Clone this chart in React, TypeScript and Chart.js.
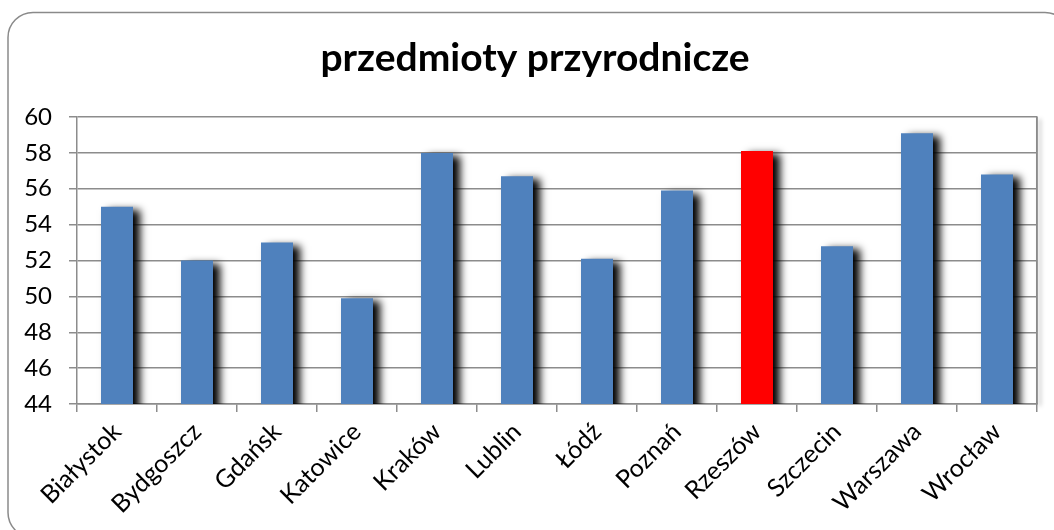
import React, { useEffect, useRef } from "react";
import { Chart, registerables } from "chart.js";

Chart.register(...registerables);

const categories = [
  "Białystok",
  "Bydgoszcz",
  "Gdańsk",
  "Katowice",
  "Kraków",
  "Lublin",
  "Łódź",
  "Poznań",
  "Rzeszów",
  "Szczecin",
  "Warszawa",
  "Wrocław",
];
const values = [55.0, 52.0, 53.0, 49.9, 58.0, 56.7, 52.1, 55.9, 58.1, 52.8, 59.1, 56.8];
const highlighted = "Rzeszów";
const titleText = "przedmioty przyrodnicze";
const yMin = 44;
const yMax = 60;
const yStep = 2;

const BLUE = "#4F81BD";
const RED = "#FF0000";
const GRID = "#8c8c8c";
const FONT = "Lato, 'Open Sans', sans-serif";

const framePlugin = {
  id: "frame",
  beforeDraw(chart: any) {
    const ctx = chart.ctx;
    ctx.save();
    ctx.fillStyle = "#ffffff";
    ctx.fillRect(0, 0, chart.width, chart.height);
    ctx.beginPath();
    ctx.roundRect(8, 12.5, 1062, 525, 25);
    ctx.lineWidth = 1.5;
    ctx.strokeStyle = "#8a8a8a";
    ctx.stroke();
    ctx.restore();
  },
  afterDraw(chart: any) {
    const { ctx, chartArea } = chart;
    ctx.save();
    ctx.shadowColor = "rgba(0,0,0,0.35)";
    ctx.shadowBlur = 4;
    ctx.shadowOffsetX = 3;
    ctx.shadowOffsetY = 2;
    ctx.strokeStyle = GRID;
    ctx.lineWidth = 1.5;
    ctx.beginPath();
    ctx.moveTo(chartArea.right, chartArea.top);
    ctx.lineTo(chartArea.right, chartArea.bottom);
    ctx.stroke();
    ctx.restore();
  },
};

const barShadowPlugin = {
  id: "barShadow",
  beforeDatasetsDraw(chart: any) {
    const ctx = chart.ctx;
    ctx.save();
    ctx.shadowColor = "rgba(0,0,0,1)";
    ctx.shadowBlur = 8;
    ctx.shadowOffsetX = 7;
    ctx.shadowOffsetY = 3;
  },
  afterDatasetsDraw(chart: any) {
    chart.ctx.restore();
  },
};

export default function App() {
  const canvasRef = useRef<HTMLCanvasElement | null>(null);

  useEffect(() => {
    if (!canvasRef.current) return;
    const chart = new Chart(canvasRef.current, {
      type: "bar",
      data: {
        labels: categories,
        datasets: [
          {
            data: values,
            backgroundColor: categories.map((c) => (c === highlighted ? RED : BLUE)),
            borderWidth: 0,
            barPercentage: 0.4,
            categoryPercentage: 1.0,
          },
        ],
      },
      options: {
        animation: false,
        responsive: false,
        maintainAspectRatio: false,
        layout: { padding: { left: 22, right: 6, top: 0, bottom: 0 } },
        plugins: {
          legend: { display: false },
          tooltip: { enabled: false },
          title: {
            display: true,
            text: titleText,
            color: "#000000",
            font: { family: FONT, size: 39, weight: "bold" },
            padding: { top: 35, bottom: 35.2 },
          },
        },
        scales: {
          x: {
            afterFit(scale: any) {
              scale.height = 126;
            },
            grid: {
              display: true,
              drawOnChartArea: false,
              drawTicks: true,
              tickLength: 8,
              offset: true,
              color: GRID,
              lineWidth: 1.5,
            },
            border: { display: true, color: GRID, width: 1.5 },
            ticks: {
              maxRotation: 45,
              minRotation: 45,
              autoSkip: false,
              padding: 5,
              color: "#000000",
              font: { family: FONT, size: 25 },
            },
          },
          y: {
            min: yMin,
            max: yMax,
            afterFit(scale: any) {
              scale.width = 55;
            },
            grid: {
              color: GRID,
              lineWidth: 1.5,
              drawTicks: true,
              tickLength: 8,
            },
            border: { display: true, color: GRID, width: 1.5 },
            ticks: {
              stepSize: yStep,
              padding: 17,
              color: "#000000",
              font: { family: FONT, size: 24 },
            },
          },
          y2: {
            position: "right",
            min: yMin,
            max: yMax,
            afterFit(scale: any) {
              scale.width = 11;
            },
            grid: { drawOnChartArea: false, drawTicks: false },
            border: { display: true, color: GRID, width: 1.5 },
            ticks: { display: false },
          },
        },
      },
      plugins: [framePlugin, barShadowPlugin],
    });
    return () => chart.destroy();
  }, []);

  return (
    <div style={{ position: "absolute", left: 0, top: 0, width: 1054, height: 530 }}>
      <canvas ref={canvasRef} width={1054} height={530} style={{ display: "block" }} />
    </div>
  );
}
